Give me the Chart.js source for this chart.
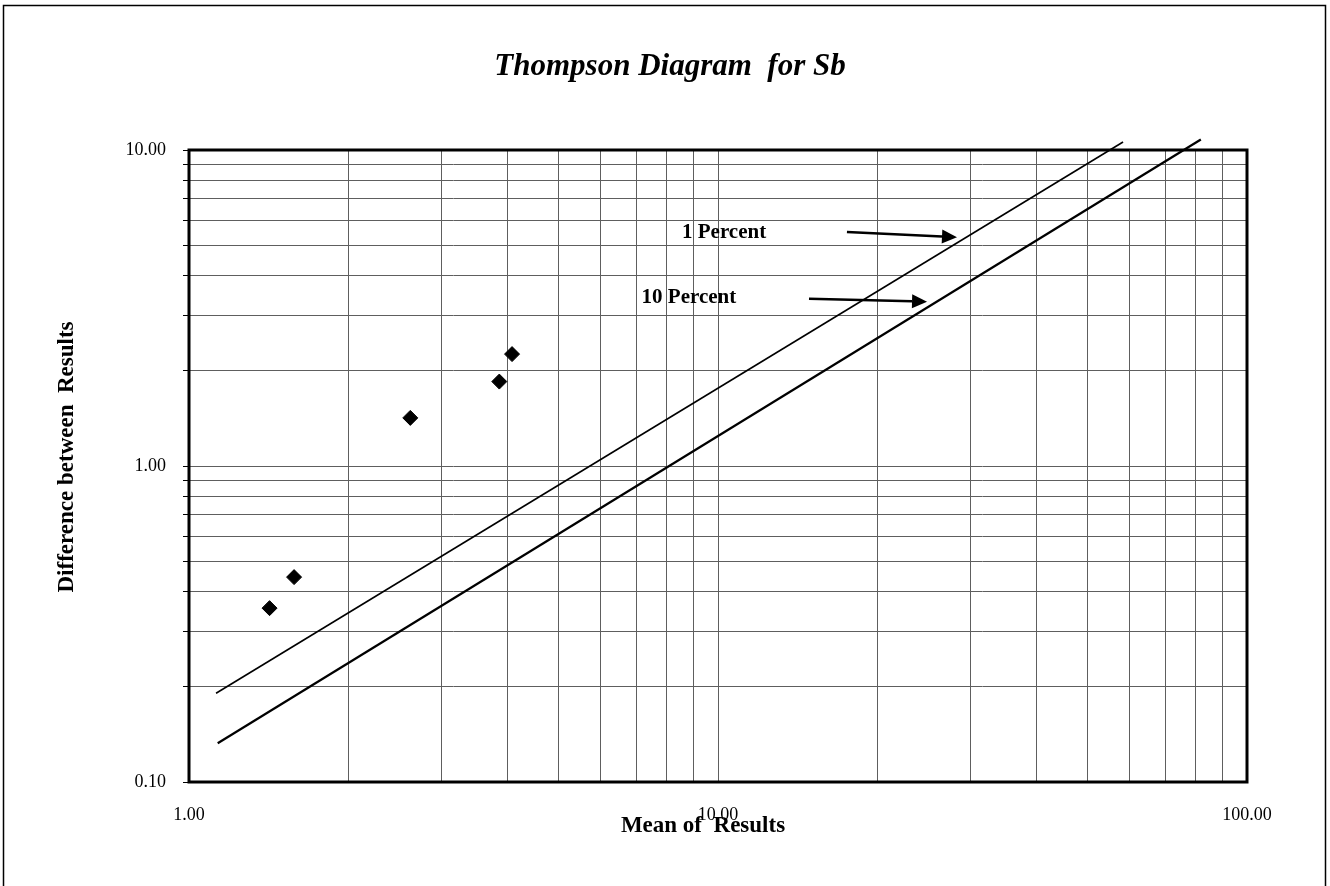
<!DOCTYPE html>
<html>
<head>
<meta charset="utf-8">
<title>Thompson Diagram for Sb</title>
<script src="https://cdn.jsdelivr.net/npm/chart.js@4/dist/chart.umd.min.js"></script>
<style>
    body { margin: 0; background: #fff; }
    canvas { display: block; }
</style>
</head>
<body>
<canvas id="thompsonChart" width="1330" height="886"></canvas>
<script>
// Duplicate results for Sb: mean of the pair vs. difference between them
const meanResults = [1.42, 1.58, 2.62, 3.86, 4.08];
const diffResults = [0.355, 0.445, 1.42, 1.85, 2.26];

// Reference lines (end points on the log-log grid)
const onePercentX = [1.125, 58.3];
const onePercentY = [0.191, 10.6];
const tenPercentX = [1.133, 81.8];
const tenPercentY = [0.1326, 10.8];

// Axis ticks
const xTicks = [1, 2, 3, 4, 5, 6, 7, 8, 9, 10, 20, 30, 40, 50, 60, 70, 80, 90, 100];
const yTicks = [0.1, 0.2, 0.3, 0.4, 0.5, 0.6, 0.7, 0.8, 0.9, 1, 2, 3, 4, 5, 6, 7, 8, 9, 10];
const xLabels = ['1.00', '10.00', '100.00'];
const yLabels = ['0.10', '1.00', '10.00'];

const serif = "'Liberation Serif', 'Times New Roman', serif";

// Line labels with arrows, placed in data coordinates
const lineNotes = [
    { text: '1 Percent', x: 8.55, y: 5.27, from: [17.53, 5.50], to: [28.3, 5.30] },
    { text: '10 Percent', x: 7.17, y: 3.28, from: [14.86, 3.38], to: [24.84, 3.31] }
];

const toPoints = (xs, ys) => xs.map((x, i) => ({ x: x, y: ys[i] }));

const isDecade = v => Math.abs(Math.log10(v) - Math.round(Math.log10(v))) < 1e-9;

const decadeLabel = (labels, ticks) => (value) => {
    if (!isDecade(value)) return '';
    const decades = ticks.filter(isDecade);
    return labels[decades.indexOf(decades.find(d => Math.abs(d - value) < 1e-9))];
};

const framePlugin = {
    id: 'frame',
    beforeDraw(chart) {
        const ctx = chart.ctx;
        ctx.save();
        ctx.fillStyle = '#fff';
        ctx.fillRect(0, 0, chart.width, chart.height);
        // outer border
        ctx.strokeStyle = '#000';
        ctx.lineWidth = 1.5;
        ctx.beginPath();
        ctx.moveTo(3.5, chart.height + 2);
        ctx.lineTo(3.5, 5.5);
        ctx.lineTo(1325.5, 5.5);
        ctx.lineTo(1325.5, chart.height + 2);
        ctx.stroke();
        ctx.restore();
    },
    afterDraw(chart) {
        const ctx = chart.ctx;
        const a = chart.chartArea;
        const xs = chart.scales.x, ys = chart.scales.y;
        ctx.save();
        // plot area border
        ctx.strokeStyle = '#000';
        ctx.lineWidth = 3;
        ctx.strokeRect(a.left, a.top, a.right - a.left, a.bottom - a.top);

        // titles
        ctx.fillStyle = '#000';
        ctx.textAlign = 'center';
        ctx.textBaseline = 'alphabetic';
        ctx.font = 'italic bold 31px ' + serif;
        ctx.fillText('Thompson Diagram  for Sb', 670, 75);
        ctx.font = 'bold 23px ' + serif;
        ctx.fillText('Mean of  Results', 703, 832);
        ctx.save();
        ctx.translate(73, 457);
        ctx.rotate(-Math.PI / 2);
        ctx.fillText('Difference between  Results', 0, 0);
        ctx.restore();

        // line notes and arrows
        ctx.font = 'bold 21px ' + serif;
        ctx.textAlign = 'left';
        lineNotes.forEach(n => {
            ctx.fillText(n.text, xs.getPixelForValue(n.x), ys.getPixelForValue(n.y));
            const x0 = xs.getPixelForValue(n.from[0]), y0 = ys.getPixelForValue(n.from[1]);
            const x1 = xs.getPixelForValue(n.to[0]), y1 = ys.getPixelForValue(n.to[1]);
            const ang = Math.atan2(y1 - y0, x1 - x0);
            const head = 15, half = 7;
            const bx = x1 - head * Math.cos(ang), by = y1 - head * Math.sin(ang);
            ctx.lineWidth = 2.5;
            ctx.beginPath();
            ctx.moveTo(x0, y0);
            ctx.lineTo(bx, by);
            ctx.stroke();
            ctx.beginPath();
            ctx.moveTo(x1, y1);
            ctx.lineTo(bx + half * Math.sin(ang), by - half * Math.cos(ang));
            ctx.lineTo(bx - half * Math.sin(ang), by + half * Math.cos(ang));
            ctx.closePath();
            ctx.fill();
        });
        ctx.restore();
    }
};

const ctx = document.querySelector('#thompsonChart').getContext('2d');
const thompsonChart = new Chart(ctx, {
    type: 'scatter',
    data: {
        datasets: [
            {
                label: 'Sb',
                data: toPoints(meanResults, diffResults),
                pointStyle: 'rectRot',
                pointRadius: 7.5,
                backgroundColor: '#000',
                borderColor: '#000',
                borderWidth: 1
            },
            {
                label: '1 Percent',
                data: toPoints(onePercentX, onePercentY),
                showLine: true,
                pointRadius: 0,
                borderColor: '#000',
                borderWidth: 1.6,
                clip: false
            },
            {
                label: '10 Percent',
                data: toPoints(tenPercentX, tenPercentY),
                showLine: true,
                pointRadius: 0,
                borderColor: '#000',
                borderWidth: 2.2,
                clip: false
            }
        ]
    },
    options: {
        responsive: false,
        animation: false,
        layout: { padding: { top: 150, right: 83, left: 0, bottom: 0 } },
        plugins: {
            legend: { display: false },
            tooltip: { enabled: false }
        },
        scales: {
            x: {
                type: 'logarithmic',
                min: 1,
                max: 100,
                afterBuildTicks: scale => { scale.ticks = xTicks.map(v => ({ value: v })); },
                afterFit: scale => { scale.height = 104; },
                grid: { color: '#5e5e5e', lineWidth: 1, drawTicks: false },
                border: { display: false },
                ticks: {
                    autoSkip: false,
                    maxRotation: 0,
                    padding: 22,
                    color: '#000',
                    font: { family: serif, size: 18 },
                    callback: decadeLabel(xLabels, xTicks)
                }
            },
            y: {
                type: 'logarithmic',
                min: 0.1,
                max: 10,
                afterBuildTicks: scale => { scale.ticks = yTicks.map(v => ({ value: v })); },
                afterFit: scale => { scale.width = 189; },
                grid: { color: '#5e5e5e', lineWidth: 1, tickLength: 6, tickColor: '#000' },
                border: { display: false },
                ticks: {
                    autoSkip: false,
                    padding: 17,
                    color: '#000',
                    font: { family: serif, size: 18 },
                    callback: decadeLabel(yLabels, yTicks)
                }
            }
        }
    },
    plugins: [framePlugin]
});
</script>
</body>
</html>
